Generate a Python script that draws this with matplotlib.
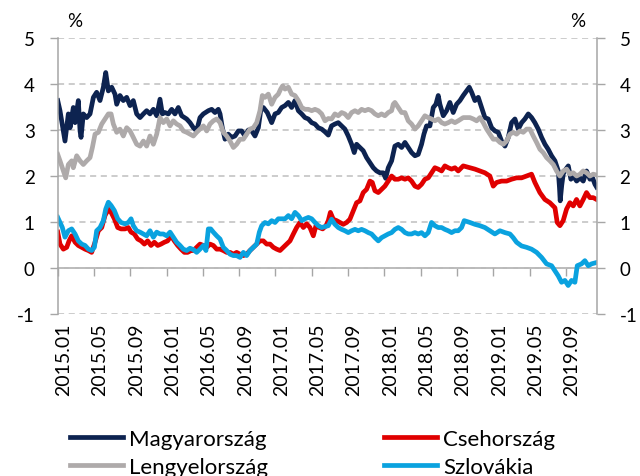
import matplotlib
matplotlib.use("Agg")
import matplotlib.pyplot as plt
from matplotlib.transforms import ScaledTranslation

plt.rcParams["font.family"] = ["Lato", "DejaVu Sans"]

# months since 2015.01 and 10-year yields (%)
hu_t = [0.00, 0.25, 0.62, 0.80, 1.17, 1.36, 1.72, 1.91, 2.27, 2.46, 2.57, 2.82, 3.19, 3.56, 3.93, 4.29, 4.66,
        5.03, 5.29, 5.58, 5.95, 6.31, 6.50, 6.86, 7.23, 7.60, 7.97, 8.33, 8.70, 9.07, 9.44, 9.80, 10.17, 10.54,
        10.91, 11.27, 11.53, 11.82, 12.19, 12.56, 12.92, 13.29, 13.66, 14.21, 14.58, 14.95, 15.31, 15.68, 16.05,
        16.60, 16.97, 17.33, 17.70, 17.89, 18.14, 18.44, 18.80, 19.17, 19.54, 19.91, 20.27, 20.64, 21.01, 21.38,
        21.74, 22.11, 22.37, 22.66, 23.10, 23.58, 23.95, 24.31, 24.68, 25.05, 25.42, 25.78, 26.15, 26.52, 26.89,
        27.25, 27.62, 27.99, 28.35, 28.72, 29.09, 29.46, 29.82, 30.18, 30.55, 30.92, 31.29, 31.65, 32.02, 32.39,
        32.68, 32.94, 33.31, 33.67, 34.04, 34.41, 34.78, 35.14, 35.51, 35.88, 36.14, 36.43, 36.80, 37.16, 37.53,
        37.90, 38.27, 38.63, 39.00, 39.37, 39.73, 40.10, 40.36, 40.65, 41.02, 41.39, 41.68, 41.94, 42.12, 42.49,
        42.86, 43.22, 43.59, 43.96, 44.33, 44.69, 45.06, 45.36, 45.62, 45.98, 46.35, 46.72, 47.08, 47.45, 47.82,
        48.19, 48.55, 48.92, 49.29, 49.66, 50.02, 50.39, 50.76, 51.13, 51.49, 51.86, 52.23, 52.59, 52.96, 53.33,
        53.70, 54.06, 54.43, 54.80, 55.17, 55.30, 55.38, 55.55, 55.72, 56.01, 56.27, 56.56, 56.82, 57.19, 57.56,
        57.92, 58.29, 58.66, 58.95, 59.21, 59.39]
hu_v = [3.64, 3.42, 2.98, 2.76, 3.35, 3.05, 3.49, 3.16, 3.64, 2.98, 2.84, 3.35, 3.27, 3.35, 3.71, 3.82, 3.64,
        3.93, 4.25, 3.85, 3.93, 3.78, 3.56, 3.75, 3.64, 3.71, 3.53, 3.64, 3.35, 3.27, 3.35, 3.42, 3.35, 3.45,
        3.31, 3.67, 3.35, 3.38, 3.35, 3.45, 3.35, 3.49, 3.31, 3.24, 3.16, 3.05, 2.98, 3.27, 3.35,
        3.42, 3.45, 3.38, 3.45, 3.35, 3.05, 2.80, 2.91, 2.84, 2.87, 2.98, 2.98, 2.87, 3.00, 2.98,
        2.87, 3.05, 3.42, 3.49, 3.38, 3.16, 3.35, 3.38, 3.49, 3.53, 3.60, 3.49, 3.64, 3.42, 3.35,
        3.27, 3.24, 3.16, 3.13, 3.05, 3.02, 2.96, 2.89, 3.09, 3.13, 3.16, 3.09, 3.02, 2.87, 2.69,
        2.51, 2.69, 2.62, 2.55, 2.40, 2.29, 2.18, 2.11, 2.07, 2.07, 1.95, 2.18, 2.33, 2.65, 2.69,
        2.62, 2.73, 2.62, 2.51, 2.44, 2.47, 2.69, 2.91, 3.09, 3.09, 3.49, 3.56, 3.75, 3.56, 3.31,
        3.42, 3.60, 3.38, 3.56, 3.64, 3.75, 3.85, 3.93, 3.82, 3.64, 3.71, 3.49, 3.27, 3.24, 3.05,
        2.98, 2.95, 2.76, 2.65, 2.84, 3.16, 3.24, 3.02, 3.16, 3.24, 3.35, 3.27, 3.16, 3.02, 2.84,
        2.69, 2.58, 2.44, 2.33, 2.11, 1.75, 1.46, 1.80, 2.05, 2.15, 2.22, 1.93, 2.00, 1.89, 1.96,
        1.89, 2.11, 1.93, 1.96, 1.82, 1.76]

cz_t = [0.00, 0.25, 0.62, 0.99, 1.25, 1.54, 1.91, 2.27, 2.64, 3.01, 3.38, 3.74, 4.11, 4.48, 4.85, 5.21, 5.58,
        5.88, 6.24, 6.61, 6.98, 7.42, 7.78, 8.08, 8.44, 8.81, 9.18, 9.55, 9.91, 10.28, 10.65, 11.02, 11.38,
        11.75, 12.12, 12.49, 12.85, 13.22, 13.59, 13.96, 14.32, 14.69, 14.95, 15.31, 15.68, 16.05, 16.42,
        16.78, 17.15, 17.52, 17.89, 18.25, 18.62, 18.99, 19.36, 19.72, 20.09, 20.46, 20.82, 21.19, 21.56,
        21.93, 22.29, 22.66, 23.03, 23.40, 23.76, 24.13, 24.50, 24.87, 25.23, 25.60, 25.97, 26.33, 26.70,
        27.07, 27.44, 27.80, 28.17, 28.46, 28.83, 29.20, 29.57, 29.82, 30.05, 30.37, 30.74, 31.10, 31.47,
        31.84, 32.20, 32.57, 32.94, 33.31, 33.67, 34.04, 34.41, 34.67, 34.96, 35.33, 35.69, 36.06, 36.43,
        36.80, 37.16, 37.53, 37.90, 38.27, 38.63, 39.00, 39.37, 39.73, 40.10, 40.47, 40.84, 41.20, 41.57,
        41.94, 42.31, 42.67, 43.04, 43.41, 43.78, 44.14, 44.69, 45.43, 45.98, 46.53, 47.08, 47.63, 48.00,
        48.37, 48.92, 49.47, 50.02, 50.57, 51.12, 51.67, 52.22, 52.59, 53.14, 53.69, 54.24, 54.80, 55.05,
        55.35, 55.71, 56.08, 56.45, 56.82, 57.18, 57.55, 57.92, 58.28, 58.65, 59.02, 59.39]
cz_v = [0.78, 0.52, 0.41, 0.45, 0.59, 0.70, 0.56, 0.49, 0.45, 0.41, 0.38, 0.34, 0.56, 0.81, 0.88, 1.14, 1.28,
        1.21, 1.07, 0.88, 0.85, 0.85, 0.88, 0.78, 0.74, 0.63, 0.59, 0.52, 0.59, 0.49, 0.56, 0.49, 0.52,
        0.56, 0.59, 0.70, 0.59, 0.49, 0.41, 0.34, 0.34, 0.38, 0.38, 0.45, 0.52, 0.49, 0.45,
        0.52, 0.49, 0.41, 0.41, 0.38, 0.34, 0.34, 0.30, 0.34, 0.30, 0.27, 0.30, 0.38, 0.45,
        0.52, 0.59, 0.59, 0.52, 0.52, 0.45, 0.41, 0.38, 0.45, 0.52, 0.59, 0.74, 0.88, 0.99,
        0.88, 0.96, 0.88, 0.70, 0.92, 0.88, 0.85, 0.92, 1.03, 1.21, 1.06, 1.03, 0.99, 0.95,
        0.99, 1.06, 1.24, 1.42, 1.46, 1.64, 1.71, 1.89, 1.86, 1.68, 1.64, 1.71, 1.78, 1.89,
        2.00, 1.93, 1.93, 1.96, 1.93, 1.96, 1.89, 1.78, 1.75, 1.82, 1.93, 1.96, 2.07, 2.18,
        2.15, 2.11, 2.22, 2.18, 2.15, 2.18, 2.11, 2.22, 2.18, 2.15, 2.11, 2.07, 2.00, 1.78,
        1.86, 1.89, 1.89, 1.93, 1.96, 1.96, 2.00, 2.04, 1.86, 1.64, 1.49, 1.42, 1.31, 0.99,
        0.92, 1.03, 1.28, 1.42, 1.35, 1.49, 1.35, 1.49, 1.64, 1.53, 1.53, 1.49]

pl_t = [0.00, 0.25, 0.62, 0.88, 1.17, 1.54, 1.72, 2.09, 2.46, 2.82, 3.19, 3.56, 3.82, 4.11, 4.48, 4.85, 5.21,
        5.58, 5.88, 6.13, 6.50, 6.86, 7.23, 7.60, 7.97, 8.33, 8.70, 9.07, 9.44, 9.80, 10.17, 10.54, 10.91,
        11.27, 11.64, 12.01, 12.38, 12.74, 13.11, 13.48, 13.84, 14.21, 14.58, 14.95, 15.31, 15.68, 16.05,
        16.42, 16.78, 17.15, 17.52, 17.89, 18.25, 18.62, 18.99, 19.36, 19.72, 20.09, 20.46, 20.82, 21.19,
        21.56, 21.93, 22.29, 22.55, 22.84, 23.21, 23.58, 23.95, 24.31, 24.57, 24.79, 25.05, 25.42, 25.78,
        26.15, 26.52, 26.89, 27.25, 27.62, 27.99, 28.35, 28.72, 29.09, 29.46, 29.82, 30.18, 30.55, 30.92,
        31.29, 31.65, 32.02, 32.39, 32.76, 33.12, 33.49, 33.86, 34.23, 34.59, 34.96, 35.33, 35.69, 36.06,
        36.43, 36.80, 36.98, 37.16, 37.53, 37.90, 38.27, 38.63, 39.00, 39.37, 39.73, 40.10, 40.47, 40.84,
        41.20, 41.57, 41.94, 42.31, 42.67, 43.04, 43.41, 43.78, 44.14, 44.69, 45.06, 45.43, 45.80, 46.17,
        46.53, 46.90, 47.27, 47.64, 48.00, 48.37, 48.74, 49.11, 49.47, 49.84, 50.21, 50.57, 50.94, 51.31,
        51.68, 52.04, 52.41, 52.78, 53.15, 53.51, 53.88, 54.25, 54.62, 54.98, 55.35, 55.72, 56.09, 56.45,
        56.82, 57.19, 57.56, 57.92, 58.29, 58.66, 59.02, 59.39]
pl_v = [2.47, 2.33, 2.11, 1.96, 2.25, 2.33, 2.18, 2.44, 2.33, 2.25, 2.33, 2.40, 2.62, 2.91, 2.95, 3.13, 3.24,
        3.35, 3.35, 3.13, 2.95, 3.02, 2.87, 3.05, 2.98, 2.84, 2.69, 2.65, 2.76, 2.65, 2.87, 2.69, 2.91,
        3.27, 3.16, 3.24, 3.09, 3.20, 3.13, 3.09, 2.98, 2.95, 2.91, 2.87, 2.95, 3.02, 3.09,
        2.98, 3.13, 3.20, 3.24, 3.16, 2.95, 2.87, 2.76, 2.62, 2.69, 2.80, 2.80, 2.91, 3.02,
        3.05, 3.16, 3.42, 3.75, 3.71, 3.78, 3.56, 3.71, 3.78, 3.89, 3.96, 3.89, 3.93, 3.78,
        3.75, 3.64, 3.49, 3.45, 3.45, 3.42, 3.45, 3.42, 3.35, 3.20, 3.25, 3.24, 3.35, 3.31,
        3.38, 3.35, 3.27, 3.38, 3.42, 3.38, 3.45, 3.42, 3.45, 3.42, 3.35, 3.31, 3.35, 3.31,
        3.38, 3.42, 3.56, 3.60, 3.49, 3.38, 3.38, 3.20, 3.13, 3.02, 3.09, 3.20, 3.31, 3.27,
        3.24, 3.20, 3.24, 3.16, 3.13, 3.16, 3.20, 3.16, 3.20, 3.27, 3.27, 3.27, 3.24, 3.20,
        3.27, 3.16, 3.02, 2.91, 2.80, 2.80, 2.73, 2.69, 2.76, 2.91, 2.95, 2.91, 2.98, 2.95,
        3.02, 3.02, 2.87, 2.73, 2.58, 2.51, 2.40, 2.33, 2.25, 2.11, 2.00, 2.11, 2.15, 2.04,
        2.07, 2.00, 2.04, 2.11, 2.07, 2.00, 2.04, 2.02]

sk_t = [0.00, 0.25, 0.51, 0.80, 1.17, 1.54, 1.91, 2.27, 2.64, 3.01, 3.38, 3.74, 4.04, 4.29, 4.66, 5.03, 5.29,
        5.58, 5.88, 6.24, 6.61, 6.98, 7.42, 7.78, 8.08, 8.33, 8.70, 9.07, 9.44, 9.80, 10.17, 10.54, 10.91,
        11.27, 11.64, 12.01, 12.38, 12.74, 13.11, 13.48, 13.84, 14.21, 14.58, 14.95, 15.31, 15.68, 16.05,
        16.34, 16.60, 16.86, 17.15, 17.52, 17.89, 18.25, 18.62, 18.99, 19.36, 19.72, 20.09, 20.46, 20.82,
        21.19, 21.56, 21.93, 22.22, 22.48, 22.84, 23.21, 23.58, 23.95, 24.31, 24.68, 25.05, 25.42, 25.78,
        26.15, 26.52, 26.89, 27.25, 27.62, 27.99, 28.35, 28.72, 29.09, 29.46, 29.82, 30.18, 30.55, 30.92,
        31.29, 31.65, 32.02, 32.39, 32.76, 33.12, 33.49, 33.86, 34.23, 34.59, 34.96, 35.33, 35.69, 36.06,
        36.43, 36.80, 37.16, 37.53, 37.90, 38.27, 38.63, 39.00, 39.37, 39.73, 40.10, 40.47, 40.84, 41.20,
        41.57, 41.94, 42.31, 42.67, 43.04, 43.41, 43.78, 44.14, 44.51, 44.80, 45.43, 45.98, 46.53, 47.08,
        47.63, 48.18, 48.73, 49.29, 49.84, 50.20, 50.57, 51.12, 51.67, 52.22, 52.78, 53.33, 53.88, 54.43,
        54.80, 55.16, 55.53, 55.90, 56.26, 56.63, 57.00, 57.26, 57.73, 58.10, 58.47, 58.83, 59.39]
sk_v = [1.10, 0.99, 0.88, 0.67, 0.81, 0.85, 0.74, 0.59, 0.52, 0.49, 0.41, 0.38, 0.45, 0.81, 0.88, 1.03, 1.28,
        1.43, 1.36, 1.25, 1.07, 0.99, 0.96, 0.99, 1.07, 0.92, 0.81, 0.78, 0.74, 0.70, 0.81, 0.67, 0.78,
        0.74, 0.74, 0.70, 0.78, 0.67, 0.56, 0.49, 0.41, 0.38, 0.43, 0.40, 0.34, 0.41, 0.49,
        0.38, 0.85, 0.85, 0.78, 0.70, 0.63, 0.45, 0.38, 0.30, 0.27, 0.27, 0.23, 0.34, 0.27,
        0.38, 0.45, 0.52, 0.78, 0.92, 0.99, 0.96, 1.03, 0.99, 1.07, 1.07, 1.07, 1.14, 1.07,
        1.21, 1.14, 1.03, 1.07, 1.10, 1.07, 0.99, 0.92, 0.88, 0.90, 0.92, 1.06, 0.95, 0.88,
        0.84, 0.81, 0.77, 0.81, 0.84, 0.81, 0.84, 0.81, 0.77, 0.74, 0.66, 0.59, 0.66, 0.70,
        0.74, 0.77, 0.84, 0.88, 0.84, 0.77, 0.74, 0.74, 0.77, 0.74, 0.77, 0.70, 0.77, 0.99,
        0.92, 0.88, 0.88, 0.84, 0.81, 0.77, 0.81, 0.81, 0.88, 1.03, 0.99, 0.95, 0.92, 0.88,
        0.81, 0.74, 0.81, 0.77, 0.74, 0.66, 0.56, 0.48, 0.45, 0.41, 0.34, 0.23, 0.09, 0.05,
        -0.06, -0.17, -0.31, -0.27, -0.38, -0.27, -0.31, 0.05, 0.09, 0.16, 0.05, 0.09, 0.12]

tick_pos = list(range(0, 60, 4))
tick_labels = ["2015.01", "2015.05", "2015.09", "2016.01", "2016.05", "2016.09", "2017.01", "2017.05",
               "2017.09", "2018.01", "2018.05", "2018.09", "2019.01", "2019.05", "2019.09"]

axis_grey = "#A6A6A6"
grid_grey = "#BFBFBF"

fig = plt.figure(figsize=(6.4, 4.77), dpi=100)
ax = fig.add_axes([0.0902, 0.3396, 0.8421, 0.5786])

lw = 3.4
hu, = ax.plot(hu_t, hu_v, color="#0D2350", lw=lw, label="Magyarország")
cz, = ax.plot(cz_t, cz_v, color="#E00000", lw=lw, label="Csehország")
pl, = ax.plot(pl_t, pl_v, color="#AEAAAA", lw=lw, label="Lengyelország")
sk, = ax.plot(sk_t, sk_v, color="#0AA2DF", lw=lw, label="Szlovákia")

ax.set_xlim(0, 59.4)
ax.set_ylim(-1, 5)
ax.set_yticks(range(-1, 6))
ax.set_yticklabels([str(v) for v in range(-1, 6)])
ax.yaxis.grid(True, color=grid_grey, linestyle=(0, (4, 3)), lw=1.1)
ax.tick_params(axis="y", which="both", left=True, right=True, labelleft=True, labelright=True,
               direction="out", length=5.5, width=1, color=axis_grey, labelsize=13.5, pad=11)

ax.set_xticks(tick_pos)
ax.set_xticklabels(tick_labels, rotation=90, fontsize=14)
ax.tick_params(axis="x", length=0, pad=6)
# rotated date labels sit a little to the right of their ticks
nudge = ScaledTranslation(6 / 100, 0, fig.dpi_scale_trans)
for lbl in ax.get_xticklabels():
    lbl.set_transform(lbl.get_transform() + nudge)

for side in ("top", "bottom"):
    ax.spines[side].set_visible(False)
for side in ("left", "right"):
    ax.spines[side].set_color(axis_grey)
    ax.spines[side].set_linewidth(1.1)

# zero line with the month ticks hanging from it
zero_ax = ax.secondary_xaxis(1 / 6)
zero_ax.set_xticks(tick_pos)
zero_ax.set_xticklabels([])
zero_ax.tick_params(direction="out", length=5.5, width=1, color=axis_grey)
zero_ax.spines["bottom"].set_color(axis_grey)
zero_ax.spines["bottom"].set_linewidth(1.1)

fig.text(0.117, 0.955, "%", fontsize=13.5, ha="center", va="center")
fig.text(0.903, 0.955, "%", fontsize=13.5, ha="center", va="center")

fig.legend(handles=[hu, pl, cz, sk], ncol=2, loc="upper left", bbox_to_anchor=(0.109, 0.099),
           frameon=False, fontsize=16, handlelength=2.4, handletextpad=0.27, columnspacing=5.2,
           labelspacing=0.36, borderaxespad=0, borderpad=0)

fig.savefig("out.png", dpi=100)
